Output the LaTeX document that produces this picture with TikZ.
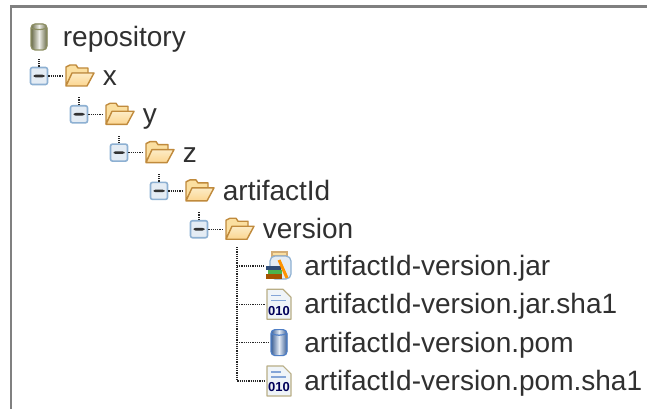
\documentclass[tikz,border=0pt]{standalone}
\usepackage{fontspec}
\setmainfont{Liberation Sans}
\usetikzlibrary{positioning}

\definecolor{foldline}{HTML}{C08A3C}
\definecolor{foldfill}{HTML}{FBDFA0}
\definecolor{boxline}{HTML}{8DB0D2}
\definecolor{boxfill}{HTML}{E4ECF4}
\definecolor{docline}{HTML}{B9AE86}
\definecolor{cylblue}{HTML}{4F7FC6}
\definecolor{cylolive}{HTML}{8D8F62}
\definecolor{labelgray}{HTML}{303030}

\tikzset{
  expbox/.style={draw=boxline,fill=boxfill,line width=1.6pt,rounded corners=2pt,
    minimum size=17pt,inner sep=0pt,path picture={
      \fill[black!80] ([shift={(-5.5,-1.3)}]path picture bounding box.center) rectangle ([shift={(5.5,1.3)}]path picture bounding box.center);}},
  folder/.style={minimum width=31pt,minimum height=25pt,inner sep=0pt,path picture={
      \begin{scope}[shift={(path picture bounding box.center)}]
        \filldraw[draw=foldline,fill=foldfill,line width=1.4pt,line join=round]
          (-13,9) -- (-13,-9) -- (-9,-11) -- (-3,-11) -- (-1,-8) -- (9,-8) -- (9,-2) -- (-6,-2) -- cycle;
        \filldraw[draw=foldline,top color=foldfill!60!white,bottom color=foldfill!90!orange,line width=1.4pt,line join=round]
          (-13,10) -- (-7,-3) -- (15,-3) -- (8,10) -- cycle;
      \end{scope}}},
  barrel/.style={minimum width=21pt,minimum height=29pt,inner sep=0pt,path picture={
      \begin{scope}[shift={(path picture bounding box.center)}]
        \filldraw[draw=#1,left color=#1!75!black,right color=#1!75!black,middle color=#1!15!white,line width=1.2pt,rounded corners=4pt]
          (-8,-13) rectangle (8,13);
        \draw[#1,line width=1.2pt] (-8,-9) to[out=-20,in=200] (8,-9);
      \end{scope}}},
  jarfile/.style={minimum width=30pt,minimum height=30pt,inner sep=0pt,path picture={
      \begin{scope}[shift={(path picture bounding box.center)}]
        \filldraw[draw=foldline!70!white,fill=foldfill,line width=1.2pt] (-7,-14) rectangle (8,-10);
        \filldraw[draw=boxline,fill=boxfill,line width=1.2pt,rounded corners=5pt] (-9,-10) rectangle (12,13);
        \fill[cylblue!60!black] (-13,0) rectangle (2,4);
        \fill[green!40!gray] (-11,4) rectangle (3,8);
        \fill[orange!65!black] (-13,8) rectangle (3,13);
        \draw[orange!85!yellow,line width=3pt] (0,-6) -- (8,12);
      \end{scope}}},
  shafile/.style={minimum width=28pt,minimum height=32pt,inner sep=0pt,path picture={
      \begin{scope}[shift={(path picture bounding box.center)}]
        \filldraw[draw=docline,fill=boxfill!60!white,line width=1.2pt,line join=round]
          (-12,-15) -- (4,-15) -- (12,-7) -- (12,15) -- (-12,15) -- cycle;
        \draw[cylblue!70!white,line width=1.2pt] (-8,-9) -- (2,-9) (-8,-4) -- (7,-4);
        \node[text=blue!35!black,font=\bfseries\fontsize{13}{13}\selectfont,inner sep=0pt] (shatext) at (0,6.5) {010};
      \end{scope}}},
  filename/.style={text=labelgray,font=\fontsize{28}{30}\selectfont,inner sep=0pt,text height=22pt,text depth=3pt},
  leafline/.style={densely dotted,line width=1.2pt,black!85},
}

\begin{document}
\begin{tikzpicture}[x=1pt,y=-1pt,node distance=38.3pt]
  % page and frame
  \path[use as bounding box,fill=white] (0,0) rectangle (647,409);
  \draw[black!50,line width=2.4pt] (11,409) -- (11,6.5) -- (647,6.5);

  \node[barrel=cylolive] (repoicon) at (39,37) {};
  \node[filename] (repolabel) [right=13pt of repoicon] {repository};

  % folder rows
  \node[expbox] (xbox) at (39,76) {};
  \node[expbox] (ybox) [below of=xbox,xshift=40pt] {};
  \node[expbox] (zbox) [below of=ybox,xshift=40pt] {};
  \node[expbox] (artbox) [below of=zbox,xshift=40pt] {};
  \node[expbox] (verbox) [below of=artbox,xshift=40pt] {};

  \foreach \n/\t in {x/x,y/y,z/z,art/artifactId,ver/version}{
    \node[folder] (\n fold) [right of=\n box,node distance=40pt] {};
    \node[filename] (\n label) [right=8pt of \n fold] {\t};
    \coordinate[above of=\n box,node distance=18pt] (\n stub);
    \draw[leafline] (\n box.north) -- (\n stub);
    \draw[leafline] (\n box.east) -- (\n fold.west);
  }

  % files under version
  \node[jarfile] (jaricon) at (279,266) {};
  \node[shafile] (jarsha) [below of=jaricon] {};
  \node[barrel=cylblue] (pomicon) [below of=jarsha] {};
  \node[shafile] (pomsha) [below of=pomicon] {};
  \node[filename] (jarlabel) [right=10pt of jaricon] {artifactId-version.jar};
  \node[filename] (jarshalabel) [right=11pt of jarsha] {artifactId-version.jar.sha1};
  \node[filename] (pomlabel) [right=14.5pt of pomicon] {artifactId-version.pom};
  \node[filename] (pomshalabel) [right=11pt of pomsha] {artifactId-version.pom.sha1};

  \coordinate (trunk) at (237,247);
  \draw[leafline] (trunk) -- (trunk |- pomsha) -- (pomsha.west);
  \foreach \n in {jaricon,jarsha,pomicon}
    \draw[leafline] (trunk |- \n) -- (\n.west);
\end{tikzpicture}
\end{document}
